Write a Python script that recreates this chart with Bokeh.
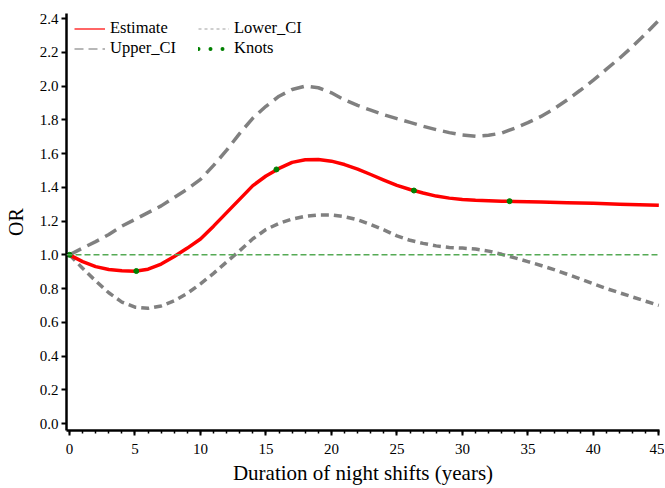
from bokeh.plotting import figure
from bokeh.models import (Range1d, FixedTicker, PrintfTickFormatter, Legend, LegendItem,
                          Span, ColumnDataSource)
from bokeh.embed import file_html
from bokeh.resources import INLINE

# ---- data ----
est_x = [0, 1, 2, 3, 4, 5, 6, 7, 8, 9, 10, 11, 12, 13, 14, 15, 16, 17, 18, 19, 20, 21, 22,
         23, 24, 25, 26, 27, 28, 29, 30, 31, 32, 33, 34, 36, 38, 40, 42, 45]
est_y = [1.0, 0.96, 0.93, 0.913, 0.905, 0.903, 0.915, 0.945, 0.99, 1.04, 1.094, 1.17, 1.25,
         1.33, 1.41, 1.467, 1.512, 1.548, 1.563, 1.565, 1.555, 1.535, 1.508, 1.476, 1.443,
         1.412, 1.387, 1.366, 1.348, 1.336, 1.328, 1.323, 1.32, 1.318, 1.316, 1.313, 1.309,
         1.305, 1.3, 1.294]

up_x = [0, 1, 2, 3, 4, 5, 6, 7, 8, 9, 10, 11, 12, 13, 14, 15, 16, 17, 18, 19, 20, 21, 22,
        23, 24, 25, 26, 27, 28, 29, 30, 31, 32, 33, 34, 35, 36, 37, 38, 39, 40, 41, 42, 43,
        44, 45]
up_y = [1.0, 1.04, 1.078, 1.12, 1.17, 1.21, 1.25, 1.29, 1.34, 1.39, 1.447, 1.53, 1.62,
        1.72, 1.81, 1.88, 1.94, 1.98, 2.0, 1.99, 1.96, 1.918, 1.885, 1.857, 1.83, 1.807,
        1.785, 1.762, 1.742, 1.724, 1.71, 1.702, 1.708, 1.722, 1.75, 1.783, 1.82, 1.865,
        1.918, 1.975, 2.035, 2.1, 2.165, 2.235, 2.31, 2.39]

lo_x = [0, 1, 2, 3, 4, 5, 6, 7, 8, 9, 10, 11, 12, 13, 14, 15, 16, 17, 18, 19, 20, 21, 22,
        23, 24, 25, 26, 27, 28, 29, 30, 31, 32, 33, 34, 35, 36, 37, 38, 39, 40, 41, 42, 43,
        44, 45]
lo_y = [1.0, 0.92, 0.845, 0.775, 0.72, 0.69, 0.683, 0.697, 0.728, 0.772, 0.828, 0.89, 0.958,
        1.025, 1.095, 1.15, 1.186, 1.212, 1.228, 1.236, 1.236, 1.226, 1.208, 1.18, 1.148,
        1.112, 1.086, 1.068, 1.053, 1.044, 1.04, 1.034, 1.022, 1.003, 0.982, 0.96, 0.937,
        0.912, 0.885, 0.857, 0.828, 0.8, 0.775, 0.75, 0.725, 0.70]

knot_x = [0, 5.1, 15.8, 26.3, 33.6]
knot_y = [1.0, 0.904, 1.506, 1.381, 1.318]

ref_level = 1.0
x_ticks = [0, 5, 10, 15, 20, 25, 30, 35, 40, 45]
x_minor = list(range(0, 46))
y_ticks = [0.0, 0.2, 0.4, 0.6, 0.8, 1.0, 1.2, 1.4, 1.6, 1.8, 2.0, 2.2, 2.4]
x_title = "Duration of night shifts (years)"
y_title = "OR"

FONT = "'Liberation Serif', 'Times New Roman', serif"

p = figure(width=664, height=487, output_backend="svg", toolbar_location=None,
           x_range=Range1d(-0.23, 45.05), y_range=Range1d(-0.041, 2.43),
           min_border_left=66, min_border_right=5, min_border_top=13, min_border_bottom=0)
p.outline_line_color = None
p.grid.visible = False
p.background_fill_color = "white"
p.border_fill_color = "white"

# reference line
p.add_layout(Span(location=ref_level, dimension="width", line_color="#55aa55",
                  line_width=1.5, line_dash="6 3"))

p.line(up_x, up_y, line_color="#808080", line_width=3.5, line_dash="13 7", line_join="round")
p.line(lo_x, lo_y, line_color="#808080", line_width=3.5, line_dash="8 5", line_join="round")
p.line(est_x, est_y, line_color="#ff0000", line_width=3.5, line_join="round")
p.scatter(knot_x, knot_y, size=5, color="#008000", marker="circle")

# legend-only renderers (thin glyphs as in the reference); NaN data draws nothing
nan = float("nan")
hidden = lambda: ColumnDataSource(data=dict(x=[nan, nan], y=[nan, nan]))
r_est = p.line("x", "y", source=hidden(), line_color="#ff0000", line_width=1.2)
r_up = p.line("x", "y", source=hidden(), line_color="#a0a0a0", line_width=1.5, line_dash="9 5")
r_lo = p.line("x", "y", source=hidden(), line_color="#a0a0a0", line_width=1.2, line_dash="3 3")
r_kn = p.line("x", "y", source=hidden(), line_color="#008000", line_width=4,
              line_dash="0 12", line_cap="round")

def mk_legend(items, loc):
    lg = Legend(items=items, location=loc, orientation="vertical",
                label_text_font=FONT, label_text_font_size="16.5px", label_text_color="black",
                glyph_width=31, glyph_height=19, label_height=19, label_standoff=5,
                spacing=0, padding=0, margin=0, border_line_color=None,
                background_fill_alpha=0)
    p.add_layout(lg)

mk_legend([LegendItem(label="Estimate", renderers=[r_est]),
           LegendItem(label="Upper_CI", renderers=[r_up])], (8, 372))
mk_legend([LegendItem(label="Lower_CI", renderers=[r_lo]),
           LegendItem(label="Knots", renderers=[r_kn])], (132, 372))

# axes
for ax in (p.xaxis[0], p.yaxis[0]):
    ax.axis_line_width = 2.5
    ax.axis_line_color = "black"
    ax.major_tick_line_width = 2
    ax.major_tick_line_color = "black"
    ax.major_tick_in = 0
    ax.major_tick_out = 5
    ax.minor_tick_in = 0
    ax.minor_tick_out = 3
    ax.minor_tick_line_width = 1.5
    ax.minor_tick_line_color = "black"
    ax.major_label_text_font = FONT
    ax.major_label_text_font_size = "15px"
    ax.major_label_text_color = "black"
    ax.axis_label_text_font = FONT
    ax.axis_label_text_font_size = "20px"
    ax.axis_label_text_font_style = "normal"
    ax.axis_label_text_color = "black"

p.xaxis.ticker = FixedTicker(ticks=x_ticks, minor_ticks=x_minor)
p.xaxis.major_label_standoff = 8
p.xaxis.axis_label = x_title
p.xaxis.axis_label_text_font_size = "21px"
p.xaxis.axis_label_standoff = 4

p.yaxis.ticker = FixedTicker(ticks=y_ticks, minor_ticks=[])
p.yaxis.formatter = PrintfTickFormatter(format="%.1f")
p.yaxis.major_label_standoff = 3
p.yaxis.axis_label = y_title
p.yaxis.axis_label_standoff = 10

open("out.html", "w").write(file_html(p, INLINE))
